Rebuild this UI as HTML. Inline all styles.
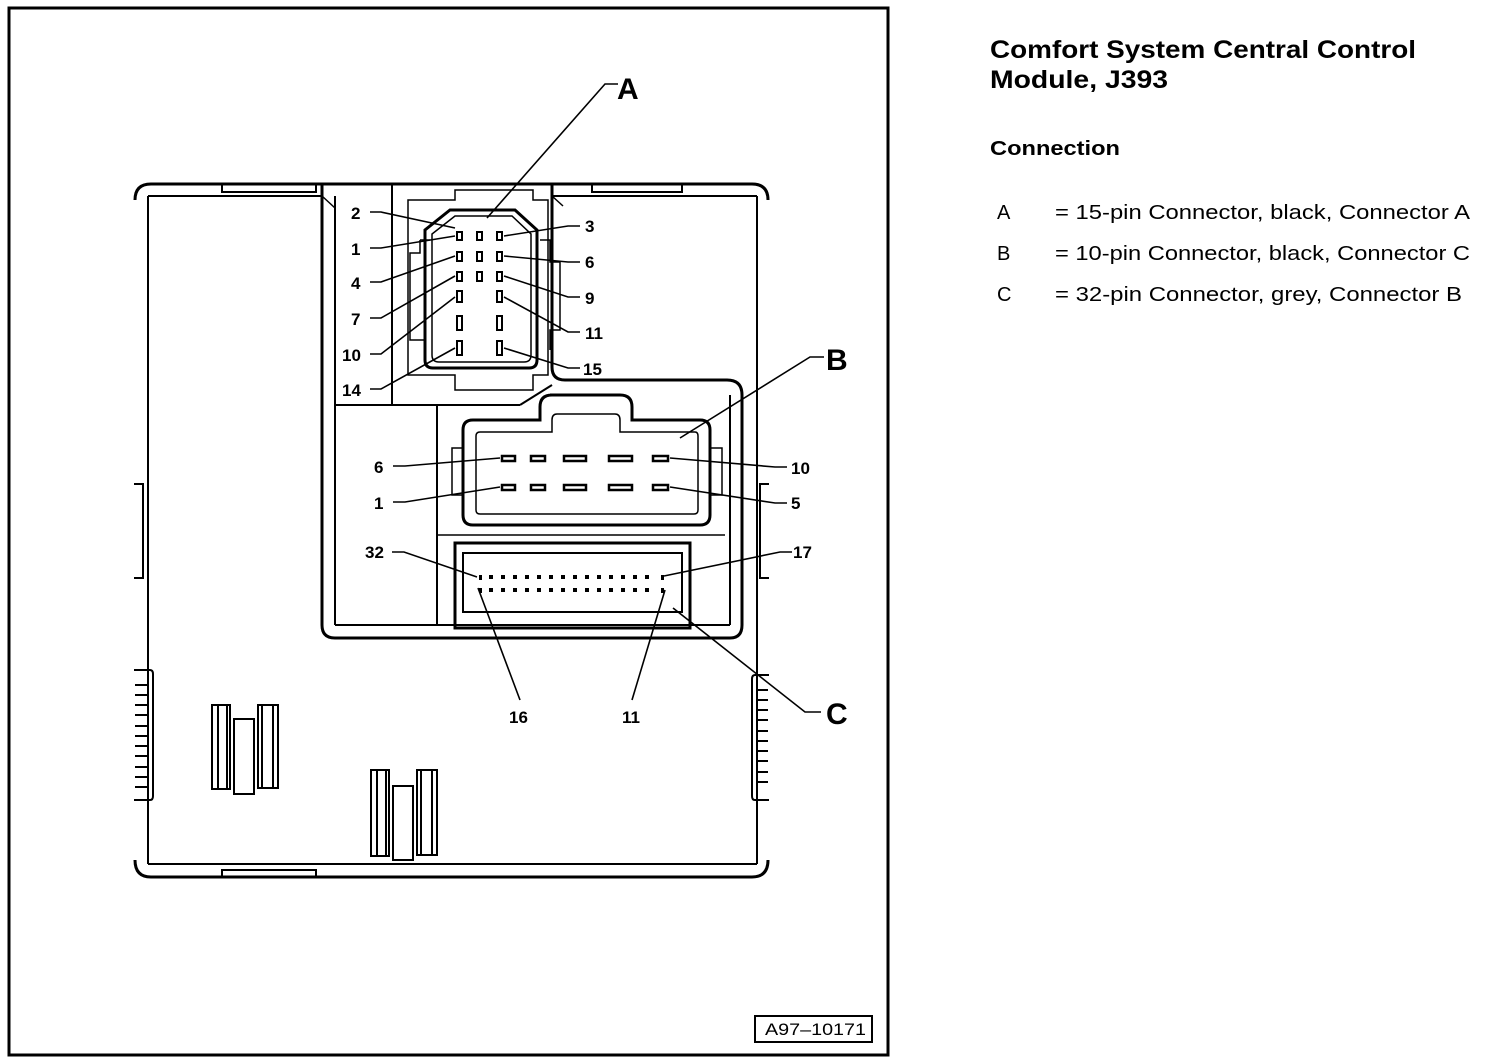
<!DOCTYPE html>
<html><head><meta charset="utf-8"><style>
html,body{margin:0;padding:0;background:#fff;}
svg{display:block;}
text{font-family:"Liberation Sans",Arial,sans-serif;fill:#000;}
.n{font-weight:bold;font-size:17px;}
</style></head><body>
<svg width="1504" height="1060" viewBox="0 0 1504 1060" xmlns="http://www.w3.org/2000/svg">
<g fill="none" stroke="#000" stroke-width="2">
<rect x="9" y="8" width="879" height="1047" stroke-width="3"/>
<rect x="755" y="1016" width="117" height="26" stroke-width="2"/>
<path d="M135,200 Q135,184 151,184 L752,184 Q768,184 768,200" stroke-width="3"/>
<path d="M135,860 Q135,877 151,877 L752,877 Q768,877 768,860" stroke-width="3"/>
<line x1="148" y1="196" x2="148" y2="864"/>
<line x1="148" y1="864" x2="757" y2="864"/>
<line x1="757" y1="196" x2="757" y2="864"/>
<line x1="148" y1="196" x2="322" y2="196"/>
<line x1="552" y1="196" x2="757" y2="196"/>
<rect x="222" y="184" width="94" height="8"/>
<rect x="592" y="184" width="90" height="8"/>
<rect x="222" y="870" width="94" height="7"/>
<path d="M134,484 L143,484 L143,578 L134,578"/>
<path d="M769,484 L760,484 L760,578 L769,578"/>
<path d="M134,670 L150,670 Q153,670 153,674 L153,796 Q153,800 150,800 L134,800"/>
<path d="M769,675 L755,675 Q752,675 752,679 L752,796 Q752,800 755,800 L769,800"/>
<g stroke-width="2">
<line x1="135" y1="685" x2="148" y2="685"/><line x1="135" y1="695" x2="148" y2="695"/><line x1="135" y1="705" x2="148" y2="705"/><line x1="135" y1="715" x2="148" y2="715"/><line x1="135" y1="726" x2="148" y2="726"/><line x1="135" y1="736" x2="148" y2="736"/><line x1="135" y1="746" x2="148" y2="746"/><line x1="135" y1="756" x2="148" y2="756"/><line x1="135" y1="767" x2="148" y2="767"/><line x1="135" y1="777" x2="148" y2="777"/><line x1="135" y1="787" x2="148" y2="787"/>
<line x1="756" y1="690" x2="768" y2="690"/><line x1="756" y1="700" x2="768" y2="700"/><line x1="756" y1="710" x2="768" y2="710"/><line x1="756" y1="720" x2="768" y2="720"/><line x1="756" y1="731" x2="768" y2="731"/><line x1="756" y1="741" x2="768" y2="741"/><line x1="756" y1="751" x2="768" y2="751"/><line x1="756" y1="761" x2="768" y2="761"/><line x1="756" y1="772" x2="768" y2="772"/><line x1="756" y1="782" x2="768" y2="782"/>
</g>
<rect x="212" y="705" width="18" height="84"/><line x1="218" y1="705" x2="218" y2="789"/><line x1="227" y1="705" x2="227" y2="789"/>
<rect x="234" y="719" width="20" height="75"/>
<rect x="258" y="705" width="20" height="83"/><line x1="262" y1="705" x2="262" y2="788"/><line x1="273" y1="705" x2="273" y2="788"/>
<rect x="371" y="770" width="18" height="86"/><line x1="377" y1="770" x2="377" y2="856"/><line x1="386" y1="770" x2="386" y2="856"/>
<rect x="393" y="786" width="20" height="74"/>
<rect x="417" y="770" width="20" height="85"/><line x1="421" y1="770" x2="421" y2="855"/><line x1="432" y1="770" x2="432" y2="855"/>
<path d="M322,184 L322,625 Q322,638 335,638 L730,638 Q742,638 742,625 L742,395 Q742,380 727,380 L565,380 Q552,380 552,367 L552,184" stroke-width="3"/>
<line x1="335" y1="196" x2="335" y2="625"/>
<line x1="335" y1="625" x2="730" y2="625"/>
<line x1="730" y1="395" x2="730" y2="625"/>
<path d="M322,196 L335,208" stroke-width="1.5"/>
<path d="M552,196 L563,206" stroke-width="1.5"/>
<line x1="392" y1="184" x2="392" y2="405"/>
<line x1="335" y1="405" x2="520" y2="405"/>
<line x1="520" y1="405" x2="552" y2="385"/>
<line x1="437" y1="405" x2="437" y2="625"/>
<line x1="437" y1="535" x2="725" y2="535" stroke-width="1.5"/>
<path d="M455,190 L455,200 L408,200 L408,375 L455,375 L455,390 L533,390 L533,375 L548,375 L548,200 L533,200 L533,190 Z" stroke-width="1.5"/>
<path d="M450,210 L515,210 L537,230 L537,360 Q537,368 529,368 L433,368 Q425,368 425,360 L425,230 Z" stroke-width="3"/>
<path d="M455,216 L512,216 L531,234 L531,355 Q531,362 524,362 L439,362 Q432,362 432,355 L432,234 Z" stroke-width="1.5"/>
<path d="M420,240 L430,240 M420,240 L420,253 L410,253 L410,340 L425,340 L425,350" stroke-width="1.5"/>
<path d="M540,240 L550,240 L550,262 L560,262 L560,330 L550,330 L550,350" stroke-width="1.5"/>
<g stroke-width="2">
<rect x="457" y="232" width="5" height="8"/><rect x="477" y="232" width="5" height="8"/><rect x="497" y="232" width="5" height="8"/>
<rect x="457" y="252" width="5" height="9"/><rect x="477" y="252" width="5" height="9"/><rect x="497" y="252" width="5" height="9"/>
<rect x="457" y="272" width="5" height="9"/><rect x="477" y="272" width="5" height="9"/><rect x="497" y="272" width="5" height="9"/>
<rect x="457" y="291" width="5" height="11"/><rect x="497" y="291" width="5" height="11"/>
<rect x="457" y="316" width="5" height="14"/><rect x="497" y="316" width="5" height="14"/>
<rect x="457" y="341" width="5" height="14"/><rect x="497" y="341" width="5" height="14"/>
</g>
<path d="M550,395 L620,395 Q632,395 632,407 L632,420 L700,420 Q710,420 710,430 L710,515 Q710,525 700,525 L473,525 Q463,525 463,515 L463,430 Q463,420 473,420 L540,420 L540,407 Q540,395 552,395 Z" stroke-width="3"/>
<path d="M557,414 L615,414 Q620,414 620,420 L620,432 L695,432 Q698,432 698,436 L698,510 Q698,514 694,514 L480,514 Q476,514 476,510 L476,436 Q476,432 480,432 L552,432 L552,420 Q552,414 557,414 Z" stroke-width="1.5"/>
<path d="M463,448 L452,448 L452,495 L463,495" stroke-width="1.5"/>
<path d="M710,448 L722,448 L722,495 L710,495" stroke-width="1.5"/>
<g stroke-width="2.5">
<rect x="502" y="456" width="13" height="5"/><rect x="531" y="456" width="14" height="5"/><rect x="564" y="456" width="22" height="5"/><rect x="609" y="456" width="23" height="5"/><rect x="653" y="456" width="15" height="5"/>
<rect x="502" y="485" width="13" height="5"/><rect x="531" y="485" width="14" height="5"/><rect x="564" y="485" width="22" height="5"/><rect x="609" y="485" width="23" height="5"/><rect x="653" y="485" width="15" height="5"/>
</g>
<rect x="455" y="543" width="235" height="85" stroke-width="3"/>
<rect x="463" y="553" width="219" height="59"/>
</g>
<g fill="#000">
<rect x="479" y="575" width="3" height="5"/><rect x="479" y="588" width="3" height="5"/>
<rect x="661" y="575" width="3" height="5"/><rect x="661" y="588" width="3" height="5"/>
<g id="r1">
<rect x="489" y="575" width="4" height="4"/><rect x="501" y="575" width="4" height="4"/><rect x="513" y="575" width="4" height="4"/><rect x="525" y="575" width="4" height="4"/><rect x="537" y="575" width="4" height="4"/><rect x="549" y="575" width="4" height="4"/><rect x="561" y="575" width="4" height="4"/><rect x="573" y="575" width="4" height="4"/><rect x="585" y="575" width="4" height="4"/><rect x="597" y="575" width="4" height="4"/><rect x="609" y="575" width="4" height="4"/><rect x="621" y="575" width="4" height="4"/><rect x="633" y="575" width="4" height="4"/><rect x="645" y="575" width="4" height="4"/>
</g>
<use href="#r1" y="13"/>
</g>
<g stroke="#000" stroke-width="1.6" fill="none">
<polyline points="618,84 605,84 487,218"/>
<polyline points="370,212 381,212 455,228"/>
<polyline points="370,248 381,248 455,236"/>
<polyline points="370,282 381,282 455,256"/>
<polyline points="370,318 381,318 455,276"/>
<polyline points="370,354 381,354 455,297"/>
<polyline points="370,389 381,389 455,348"/>
<polyline points="580,226 568,226 504,236"/>
<polyline points="580,262 568,262 504,256"/>
<polyline points="580,297 568,297 504,276"/>
<polyline points="580,332 568,332 504,297"/>
<polyline points="580,368 568,368 504,348"/>
<polyline points="824,357 810,357 680,438"/>
<polyline points="393,466 405,466 500,458"/>
<polyline points="393,502 405,502 500,487"/>
<polyline points="787,467 775,467 670,458"/>
<polyline points="787,503 775,503 670,487"/>
<polyline points="821,712 805,712 673,608"/>
<polyline points="392,552 404,552 477,577"/>
<polyline points="792,552 780,552 664,576"/>
<line x1="520" y1="700" x2="478" y2="588"/>
<line x1="632" y1="700" x2="665" y2="590"/>
</g>
<text x="617" y="99" style="font-size:30px;font-weight:bold">A</text>
<text x="826" y="370" style="font-size:30px;font-weight:bold">B</text>
<text x="826" y="724" style="font-size:30px;font-weight:bold">C</text>
<g class="n">
<text x="351" y="219">2</text><text x="351" y="255">1</text><text x="351" y="289">4</text><text x="351" y="325">7</text><text x="342" y="361">10</text><text x="342" y="396">14</text>
<text x="585" y="232">3</text><text x="585" y="268">6</text><text x="585" y="304">9</text><text x="585" y="339">11</text><text x="583" y="375">15</text>
<text x="374" y="473">6</text><text x="374" y="509">1</text><text x="791" y="474">10</text><text x="791" y="509">5</text>
<text x="365" y="558">32</text><text x="793" y="558">17</text><text x="509" y="723">16</text><text x="622" y="723">11</text>
</g>
<text x="765" y="1035" style="font-size:17px" textLength="101" lengthAdjust="spacingAndGlyphs">A97–10171</text>
<text x="990" y="58" style="font-size:25px;font-weight:bold" textLength="426" lengthAdjust="spacingAndGlyphs">Comfort System Central Control</text>
<text x="990" y="88" style="font-size:25px;font-weight:bold" textLength="178" lengthAdjust="spacingAndGlyphs">Module, J393</text>
<text x="990" y="155" style="font-size:20px;font-weight:bold" textLength="130" lengthAdjust="spacingAndGlyphs">Connection</text>
<g style="font-size:20px">
<text x="997" y="219">A</text><text x="1055" y="219" textLength="415" lengthAdjust="spacingAndGlyphs">= 15-pin Connector, black, Connector A</text>
<text x="997" y="260">B</text><text x="1055" y="260" textLength="415" lengthAdjust="spacingAndGlyphs">= 10-pin Connector, black, Connector C</text>
<text x="997" y="301">C</text><text x="1055" y="301" textLength="407" lengthAdjust="spacingAndGlyphs">= 32-pin Connector, grey, Connector B</text>
</g>
</svg>
</body></html>
